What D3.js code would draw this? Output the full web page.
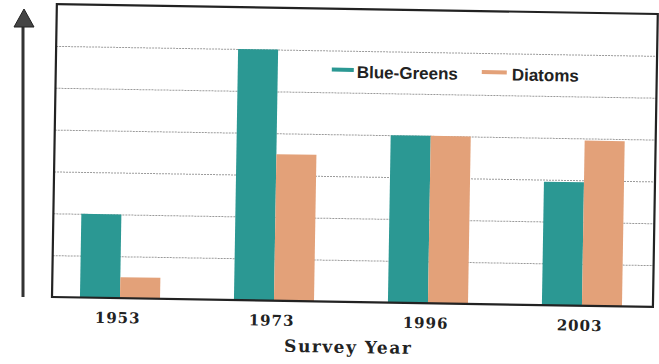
<!DOCTYPE html>
<html>
<head>
<meta charset="utf-8">
<script src="https://cdn.jsdelivr.net/npm/d3@7"></script>
<style>
  body { margin: 0; background: #fff; }
</style>
</head>
<body>
<div id="chart"></div>
<script>
// survey data
const years = ["1953", "1973", "1996", "2003"];
const series = ["Blue-Greens", "Diatoms"];
const blueGreens = [2.0, 6.0, 4.0, 2.95];
const diatoms = [0.5, 3.5, 4.0, 3.95];
const gridTicks = [0, 1, 2, 3, 4, 5, 6, 7];

const colors = { "Blue-Greens": "#2b9893", "Diatoms": "#e3a179" };

const data = years.map((y, i) => ({ year: y, values: [
  { key: "Blue-Greens", value: blueGreens[i] },
  { key: "Diatoms", value: diatoms[i] }
]}));

const svg = d3.select("#chart")
  .append("svg")
  .attr("width", 659)
  .attr("height", 364);

const plotLeft = 52, plotRight = 653, plotTop = 4, plotBottom = 297;

// the scan is tilted a little, so the whole chart sits in a rotated group
const g = svg.append("g")
  .attr("transform", "rotate(0.95," + plotLeft + "," + plotBottom + ")");

const x0 = d3.scaleBand()
  .domain(years)
  .range([43, 659])
  .paddingInner(0.48)
  .paddingOuter(0.24);

const x1 = d3.scaleBand()
  .domain(series)
  .range([0, x0.bandwidth()]);

const yScale = d3.scaleLinear()
  .domain([0, 7])
  .range([plotBottom, plotTop]);

// dotted gridlines
const grid = g.append("g")
  .attr("transform", "translate(" + plotLeft + ",0)")
  .call(d3.axisLeft(yScale)
    .tickValues(gridTicks.slice(1, -1))
    .tickSize(-(plotRight - plotLeft))
    .tickFormat(""));
grid.select(".domain").remove();
grid.selectAll(".tick line")
  .attr("stroke", "#9a9a9a")
  .attr("stroke-width", 1)
  .attr("stroke-dasharray", "2,1");

// bars
g.selectAll(".group")
  .data(data)
  .enter()
  .append("g")
  .attr("class", "group")
  .attr("transform", d => "translate(" + x0(d.year) + ",0)")
  .selectAll("rect")
  .data(d => d.values)
  .enter()
  .append("rect")
  .attr("x", d => x1(d.key))
  .attr("y", d => yScale(d.value))
  .attr("width", x1.bandwidth())
  .attr("height", d => yScale(0) - yScale(d.value))
  .attr("fill", d => colors[d.key]);

// plot border
g.append("rect")
  .attr("x", plotLeft)
  .attr("y", plotTop)
  .attr("width", plotRight - plotLeft)
  .attr("height", plotBottom - plotTop)
  .attr("fill", "none")
  .attr("stroke", "#222")
  .attr("stroke-width", 2.2);

// year labels
g.selectAll(".year-label")
  .data(years)
  .enter()
  .append("text")
  .attr("class", "year-label")
  .attr("x", d => x0(d) + x0.bandwidth() / 2 - 2)
  .attr("y", 322)
  .style("text-anchor", "middle")
  .style("font-family", "'DejaVu Serif', serif")
  .style("font-weight", "bold")
  .style("font-size", "15px")
  .style("letter-spacing", "1px")
  .attr("fill", "#222")
  .text(d => d);

g.append("text")
  .attr("x", 349)
  .attr("y", 348)
  .style("text-anchor", "middle")
  .style("font-family", "'DejaVu Serif', serif")
  .style("font-weight", "bold")
  .style("font-size", "17px")
  .style("letter-spacing", "1.5px")
  .attr("fill", "#222")
  .text("Survey Year");

// legend
const legendX = [328, 478];
const legend = g.selectAll(".legend")
  .data(series)
  .enter()
  .append("g")
  .attr("class", "legend")
  .attr("transform", (d, i) => "translate(" + legendX[i] + ",65)");

legend.append("rect")
  .attr("x", 0)
  .attr("y", -2)
  .attr("width", (d, i) => i === 0 ? 22 : 25)
  .attr("height", 4)
  .attr("fill", d => colors[d]);

legend.append("text")
  .attr("x", (d, i) => i === 0 ? 25 : 30)
  .attr("y", 8)
  .style("font-family", "'Liberation Sans', Arial, sans-serif")
  .style("font-weight", "bold")
  .style("font-size", "17px")
  .attr("fill", "#222")
  .text(d => d);

// y arrow on the left, not part of the tilted frame
svg.append("line")
  .attr("x1", 23).attr("y1", 26)
  .attr("x2", 23).attr("y2", 297)
  .attr("stroke", "#333")
  .attr("stroke-width", 3);

svg.append("path")
  .attr("d", "M24,9 L34,27 L14,27 Z")
  .attr("fill", "#444")
  .attr("stroke", "#222")
  .attr("stroke-width", 1);
</script>
</body>
</html>
